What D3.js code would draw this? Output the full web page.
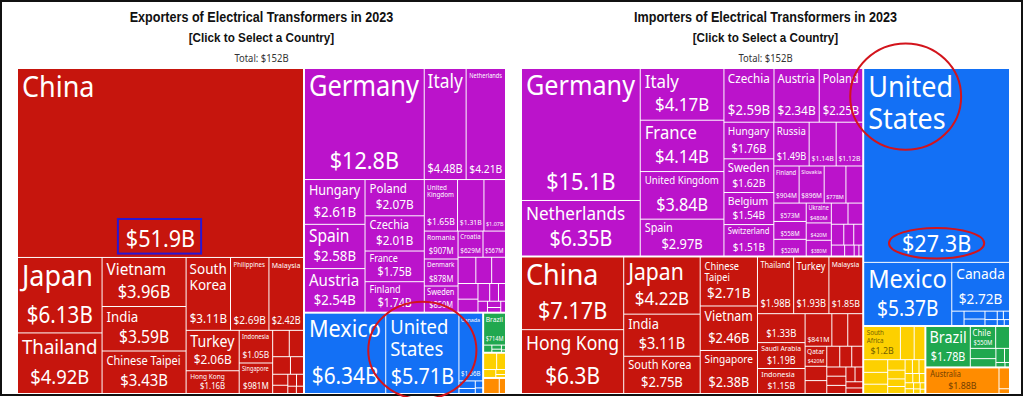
<!DOCTYPE html>
<html>
<head>
<meta charset="utf-8">
<script src="https://cdn.jsdelivr.net/npm/d3@7"></script>
<style>
body { margin: 0; background: #fff; }
svg { display: block; }
</style>
</head>
<body>
<svg id="chart" width="1024" height="397"></svg>
<script>
// Values in $B (small unlabeled cells estimated)
var continents = ["Asia", "Europe", "North America", "South America", "Africa", "Oceania"];

var expAsia = [["China", 51.9], ["Japan", 6.13], ["Thailand", 4.92], ["Vietnam", 3.96], ["India", 3.59],
    ["Chinese Taipei", 3.43], ["South Korea", 3.11], ["Philippines", 2.69], ["Malaysia", 2.42], ["Turkey", 2.06],
    ["Hong Kong", 1.16], ["Indonesia", 1.05], ["Singapore", 0.981], ["United Arab Emirates", 0.42],
    ["Saudi Arabia", 0.36], ["Israel", 0.3], ["Sri Lanka", 0.22], ["Iran", 0.16], ["Kazakhstan", 0.12],
    ["Jordan", 0.1], ["Pakistan", 0.08], ["Qatar", 0.06], ["Bangladesh", 0.05]];
var expEurope = [["Germany", 12.8], ["Italy", 4.48], ["Netherlands", 4.21], ["Hungary", 2.61], ["Spain", 2.58],
    ["Austria", 2.54], ["Poland", 2.07], ["Czechia", 2.01], ["France", 1.75], ["Finland", 1.74],
    ["United Kingdom", 1.65], ["Switzerland", 1.31], ["Portugal", 1.07], ["Romania", 0.907], ["Denmark", 0.878],
    ["Sweden", 0.85], ["Croatia", 0.629], ["Belgium", 0.567], ["Slovenia", 0.45], ["Bulgaria", 0.4],
    ["Estonia", 0.35], ["Serbia", 0.3], ["Lithuania", 0.25], ["Greece", 0.2], ["Ukraine", 0.15], ["Latvia", 0.12],
    ["Bosnia and Herzegovina", 0.1], ["North Macedonia", 0.08], ["Luxembourg", 0.06], ["Norway", 0.05]];
var expNorthAmerica = [["Mexico", 6.34], ["United States", 5.71], ["Canada", 1.56], ["Dominican Republic", 0.12],
    ["Costa Rica", 0.08], ["Panama", 0.05], ["Guatemala", 0.04]];
var expSouthAmerica = [["Brazil", 0.714], ["Argentina", 0.06], ["Colombia", 0.04], ["Chile", 0.03], ["Peru", 0.02], ["Uruguay", 0.01]];
var expAfrica = [["Tunisia", 0.22], ["South Africa", 0.15], ["Egypt", 0.1], ["Morocco", 0.05], ["Nigeria", 0.03]];
var expOceania = [["Australia", 0.25], ["New Zealand", 0.1]];

var impAsia = [["China", 7.17], ["Hong Kong", 6.3], ["Japan", 4.22], ["India", 3.11], ["South Korea", 2.75],
    ["Chinese Taipei", 2.71], ["Vietnam", 2.46], ["Singapore", 2.38], ["Thailand", 1.98], ["Turkey", 1.93],
    ["Malaysia", 1.85], ["United Arab Emirates", 1.33], ["Saudi Arabia", 1.19], ["Indonesia", 1.15],
    ["Philippines", 0.841], ["Israel", 0.5], ["Iraq", 0.47], ["Qatar", 0.42], ["Kazakhstan", 0.3], ["Kuwait", 0.27],
    ["Bangladesh", 0.26], ["Pakistan", 0.24], ["Oman", 0.22], ["Uzbekistan", 0.17], ["Sri Lanka", 0.17],
    ["Jordan", 0.15], ["Cambodia", 0.13], ["Mongolia", 0.11], ["Lebanon", 0.1], ["Azerbaijan", 0.09]];
var impEurope = [["Germany", 15.1], ["Netherlands", 6.35], ["Italy", 4.17], ["France", 4.14], ["United Kingdom", 3.84],
    ["Spain", 2.97], ["Czechia", 2.59], ["Austria", 2.34], ["Poland", 2.25], ["Hungary", 1.76], ["Sweden", 1.62],
    ["Belgium", 1.54], ["Switzerland", 1.51], ["Russia", 1.49], ["Romania", 1.14], ["Denmark", 1.12],
    ["Finland", 0.904], ["Slovakia", 0.896], ["Norway", 0.778], ["Ireland", 0.573], ["Portugal", 0.558],
    ["Greece", 0.6], ["Lithuania", 0.52], ["Ukraine", 0.48], ["Bulgaria", 0.42], ["Serbia", 0.38], ["Croatia", 0.34],
    ["Slovenia", 0.3], ["Estonia", 0.25], ["Latvia", 0.2], ["Luxembourg", 0.18], ["Belarus", 0.14],
    ["Bosnia and Herzegovina", 0.1], ["Iceland", 0.05], ["Malta", 0.04]];
var impNorthAmerica = [["United States", 27.3], ["Mexico", 5.37], ["Canada", 2.72], ["Panama", 0.17],
    ["Dominican Republic", 0.16], ["Guatemala", 0.13], ["Costa Rica", 0.1], ["Honduras", 0.07], ["Jamaica", 0.05],
    ["El Salvador", 0.05], ["Trinidad and Tobago", 0.04], ["Nicaragua", 0.03]];
var impSouthAmerica = [["Brazil", 1.78], ["Chile", 0.55], ["Peru", 0.3], ["Colombia", 0.26], ["Argentina", 0.21],
    ["Ecuador", 0.12], ["Uruguay", 0.07], ["Paraguay", 0.04], ["Bolivia", 0.02]];
var impAfrica = [["South Africa", 1.2], ["Egypt", 0.45], ["Morocco", 0.35], ["Nigeria", 0.3], ["Algeria", 0.28],
    ["Kenya", 0.22], ["Tanzania", 0.18], ["Ghana", 0.15], ["Ethiopia", 0.13], ["Tunisia", 0.12], ["Senegal", 0.1],
    ["Zambia", 0.09], ["Cote d'Ivoire", 0.08], ["Angola", 0.07], ["Mozambique", 0.06], ["Uganda", 0.05],
    ["Botswana", 0.05], ["Namibia", 0.04], ["Cameroon", 0.04], ["Zimbabwe", 0.03], ["Libya", 0.03], ["Madagascar", 0.02]];
var impOceania = [["Australia", 1.88], ["New Zealand", 0.22], ["Papua New Guinea", 0.05]];

var exporters = [expAsia, expEurope, expNorthAmerica, expSouthAmerica, expAfrica, expOceania];
var importers = [impAsia, impEurope, impNorthAmerica, impSouthAmerica, impAfrica, impOceania];

var continentColor = d3.scaleOrdinal()
    .domain(continents)
    .range(["#c6150d", "#bb13cb", "#1370f5", "#20a84f", "#fdd000", "#ff8c00"]);

var labelFont = "'Noto Sans', 'Open Sans', sans-serif";
var W = 487, H = 324;
var SQ = 0.9;   // the original's lettering is slightly condensed

var svg = d3.select("#chart");

// outer frame
svg.append("rect")
    .attr("x", 1).attr("y", 1)
    .attr("width", 1021).attr("height", 394)
    .attr("fill", "none")
    .attr("stroke", "#111")
    .attr("stroke-width", 2);

var ctx = document.createElement("canvas").getContext("2d");
function textWidth(str, size) {
    ctx.font = "100px " + labelFont;
    return ctx.measureText(str).width * size / 100 * SQ;
}

function squeeze(sel, ax) {
    sel.attr("transform", "translate(" + ax + ",0) scale(" + SQ + ",1) translate(" + (-ax) + ",0)");
}
function squeezedBox(node, ax) {
    var b = node.getBBox();
    return { x: ax + SQ * (b.x - ax), y: b.y, width: b.width * SQ, height: b.height };
}

function fmtB(v) {
    return d3.format("$.3~s")(v * 1e9).replace("G", "B");
}

function wrapWords(words, fs, maxW) {
    var lines = [], cur = "";
    for (var i = 0; i < words.length; i++) {
        if (textWidth(words[i], fs) > maxW) return null;
        var t = cur ? cur + " " + words[i] : words[i];
        if (textWidth(t, fs) <= maxW) cur = t;
        else { lines.push(cur); cur = words[i]; }
    }
    lines.push(cur);
    return lines;
}

function buildRoot(groups) {
    var data = { name: "root", children: continents.map(function(c, i) {
        return { name: c, children: groups[i].map(function(p) { return { name: p[0], value: p[1] }; }) };
    }) };
    return d3.hierarchy(data)
        .sum(function(d) { return d.children ? 0 : d.value; })
        .sort(function(a, b) { return b.value - a.value; });
}

function drawTreemap(x, y, groups, title) {
    var root = buildRoot(groups);
    d3.treemap()
        .size([W, H])
        .paddingInner(function(n) { return n.depth === 0 ? 2 : 1; })(root);

    var cx = x + W / 2;
    svg.append("text")
        .attr("x", cx).attr("y", 22)
        .attr("text-anchor", "middle")
        .attr("font-family", "'Liberation Sans', Arial, sans-serif")
        .attr("font-weight", "bold")
        .attr("font-size", "14px")
        .attr("fill", "#111")
        .text(title)
        .call(squeeze, cx);
    svg.append("text")
        .attr("x", cx).attr("y", 42)
        .attr("text-anchor", "middle")
        .attr("font-family", "'Liberation Sans', Arial, sans-serif")
        .attr("font-weight", "bold")
        .attr("font-size", "13px")
        .attr("fill", "#111")
        .text("[Click to Select a Country]")
        .call(squeeze, cx);
    svg.append("text")
        .attr("x", cx).attr("y", 62)
        .attr("text-anchor", "middle")
        .attr("font-family", labelFont)
        .attr("font-size", "10.5px")
        .attr("fill", "#333")
        .text("Total: " + fmtB(root.value))
        .call(squeeze, cx);

    var g = svg.append("g").attr("transform", "translate(" + x + "," + y + ")");

    var cells = g.selectAll("g.cell")
        .data(root.leaves())
        .enter().append("g")
        .attr("class", "cell");

    cells.append("rect")
        .attr("x", function(d) { return d.x0; })
        .attr("y", function(d) { return d.y0; })
        .attr("width", function(d) { return Math.max(0, d.x1 - d.x0); })
        .attr("height", function(d) { return Math.max(0, d.y1 - d.y0); })
        .attr("fill", function(d) { return continentColor(d.parent.data.name); });

    cells.each(function(d) {
        var cell = d3.select(this);
        var w = d.x1 - d.x0, h = d.y1 - d.y0;
        var padX = Math.max(1.5, Math.min(4, w * 0.07));
        var padY = Math.max(1.5, Math.min(4, h * 0.08));
        var aw = w - 2 * padX;
        var val = fmtB(d.value);
        // value size follows the cell area, capped by width and height
        var vf = Math.min(24, aw / textWidth(val, 1), 0.29 * Math.sqrt(w * h), h * 0.4);
        if (vf < 5) return;

        var fill = d3.color(continentColor(d.parent.data.name));
        var light = (fill.r + fill.g) > 380;
        var txtColor = light ? fill.darker(2.2).formatHex() : "#fff";

        var availH = h - 2 * padY - vf * 1.15;
        var words = d.data.name.split(" ");
        var nf = 0, lines = null;
        for (var fs = 30; fs >= 6; fs -= 0.25) {
            var l = wrapWords(words, fs, aw);
            if (l && l.length * fs * 1.12 <= availH) { nf = fs; lines = l; break; }
        }
        if (lines) {
            var ax = d.x0 + padX;
            var nameText = cell.append("text")
                .attr("class", "name")
                .attr("font-family", labelFont)
                .attr("font-size", nf + "px")
                .attr("fill", txtColor)
                .call(squeeze, ax);
            lines.forEach(function(line, i) {
                nameText.append("tspan")
                    .attr("x", ax)
                    .attr("y", d.y0 + padY + nf * 0.8 + i * nf * 1.08)
                    .text(line);
            });
            d.nameAnchor = ax;
        }
        var mx = (d.x0 + d.x1) / 2;
        cell.append("text")
            .attr("class", "value")
            .attr("x", mx)
            .attr("y", d.y1 - padY * 0.75 - vf * 0.28)
            .attr("text-anchor", "middle")
            .attr("font-family", labelFont)
            .attr("font-size", vf + "px")
            .attr("fill", txtColor)
            .text(val)
            .call(squeeze, mx);
        d.valueAnchor = mx;
    });

    return { g: g, cells: cells };
}

var left = drawTreemap(18, 69, exporters, "Exporters of Electrical Transformers in 2023");
var right = drawTreemap(522, 69, importers, "Importers of Electrical Transformers in 2023");

// Highlight marks drawn around labels
function cellOf(chart, name) {
    return chart.cells.filter(function(d) { return d.data.name === name; });
}

// blue box around China's value (exporters)
var chinaCell = cellOf(left, "China");
var chinaVal = squeezedBox(chinaCell.select("text.value").node(), chinaCell.datum().valueAnchor);
left.g.append("rect")
    .attr("x", chinaVal.x - 8)
    .attr("y", chinaVal.y - 3)
    .attr("width", chinaVal.width + 14)
    .attr("height", chinaVal.height + 2)
    .attr("fill", "none")
    .attr("stroke", "#2a16d2")
    .attr("stroke-width", 2);

// red ring around the US cell (exporters)
var usLeft = cellOf(left, "United States").datum();
left.g.append("ellipse")
    .attr("cx", (usLeft.x0 + usLeft.x1) / 2)
    .attr("cy", (usLeft.y0 + usLeft.y1) / 2 - 3)
    .attr("rx", (usLeft.x1 - usLeft.x0) / 2 + 18)
    .attr("ry", (usLeft.y1 - usLeft.y0) / 2 + 9)
    .attr("fill", "none")
    .attr("stroke", "#d3141c")
    .attr("stroke-width", 2);

// red rings around the US name and value (importers)
var usRight = cellOf(right, "United States");
var usName = squeezedBox(usRight.select("text.name").node(), usRight.datum().nameAnchor);
right.g.append("ellipse")
    .attr("cx", usName.x + usName.width / 2 - 5)
    .attr("cy", usName.y + usName.height / 2 - 5)
    .attr("rx", usName.width / 2 + 13)
    .attr("ry", usName.height / 2 + 17)
    .attr("fill", "none")
    .attr("stroke", "#d3141c")
    .attr("stroke-width", 2);

var usVal = squeezedBox(usRight.select("text.value").node(), usRight.datum().valueAnchor);
right.g.append("ellipse")
    .attr("cx", usVal.x + usVal.width / 2)
    .attr("cy", usVal.y + usVal.height / 2)
    .attr("rx", usVal.width / 2 + 13)
    .attr("ry", usVal.height / 2 - 1)
    .attr("fill", "none")
    .attr("stroke", "#d3141c")
    .attr("stroke-width", 2);
</script>
</body>
</html>
